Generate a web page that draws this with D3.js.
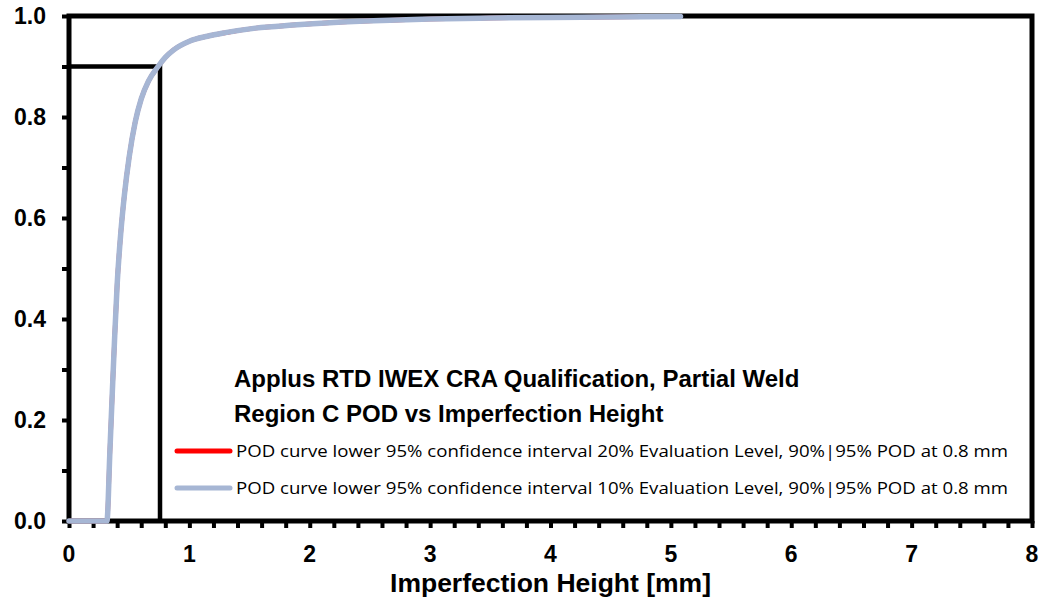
<!DOCTYPE html>
<html>
<head>
<meta charset="utf-8">
<script src="https://cdn.jsdelivr.net/npm/d3@7"></script>
<style>
  html, body { margin: 0; padding: 0; background: #fff; }
  svg { display: block; }
</style>
</head>
<body>
<svg id="chart" width="1041" height="605"></svg>
<script>
// Imperfection height (mm) sampled along the POD curves
const heights = [0, 0.315, 0.34, 0.36, 0.38, 0.40, 0.43, 0.46, 0.50, 0.55, 0.60, 0.66, 0.74, 0.80, 0.87,
                 1.0, 1.15, 1.3, 1.55, 1.86, 2.2, 2.6, 3.0, 3.5, 4.0, 4.5, 5.08];
// Lower 95% confidence POD, 20% evaluation level
const pod20 = [0, 0, 0.14, 0.256, 0.368, 0.468, 0.57, 0.645, 0.721, 0.79, 0.836, 0.871, 0.90, 0.918, 0.933,
               0.950, 0.960, 0.967, 0.976, 0.982, 0.987, 0.991, 0.994, 0.996, 0.997, 0.998, 0.999];
// Lower 95% confidence POD, 10% evaluation level
const pod10 = [0, 0, 0.14, 0.256, 0.368, 0.468, 0.57, 0.645, 0.721, 0.79, 0.836, 0.871, 0.90, 0.918, 0.933,
               0.950, 0.960, 0.967, 0.976, 0.982, 0.987, 0.991, 0.994, 0.996, 0.997, 0.998, 0.999];

// 90% POD level and the height where the lower bound reaches it
const podLevel = 0.9;
const a9095 = 0.756;

const xTickValues = [0, 1, 2, 3, 4, 5, 6, 7, 8];
const yTickValues = [0, 0.2, 0.4, 0.6, 0.8, 1.0];
const xMinorTicks = d3.range(0, 8.0001, 0.2);
const yMinorTicks = d3.range(0, 1.0001, 0.1);

const titleLines = [
  "Applus RTD IWEX CRA Qualification, Partial Weld",
  "Region C POD vs Imperfection Height"
];
const seriesNames = [
  "POD curve lower 95% confidence interval 20% Evaluation Level, 90%|95% POD at 0.8 mm",
  "POD curve lower 95% confidence interval 10% Evaluation Level, 90%|95% POD at 0.8 mm"
];
const seriesColors = ["#ff0000", "#a6b6d4"];
const xTitle = "Imperfection Height [mm]";

const svg = d3.select("#chart");
const plotLeft = 69, plotRight = 1032, plotTop = 16, plotBottom = 521;

const x = d3.scaleLinear().domain([0, 8]).range([plotLeft, plotRight]);
const y = d3.scaleLinear().domain([0, 1]).range([plotBottom, plotTop]);

// minor + major tick marks
const xAxis = d3.axisBottom(x).tickValues(xMinorTicks).tickSize(7).tickFormat("");
const gx = svg.append("g").attr("transform", `translate(0,${plotBottom})`).call(xAxis);
gx.select(".domain").remove();
gx.selectAll(".tick line").attr("stroke", "#000").attr("stroke-width", 4);

const yAxis = d3.axisLeft(y).tickValues(yMinorTicks).tickSize(7).tickFormat("");
const gy = svg.append("g").attr("transform", `translate(${plotLeft},0)`).call(yAxis);
gy.select(".domain").remove();
gy.selectAll(".tick line").attr("stroke", "#000").attr("stroke-width", 4);

// tick labels
svg.append("g").selectAll("text").data(xTickValues).join("text")
  .attr("x", d => x(d)).attr("y", 562)
  .attr("text-anchor", "middle")
  .attr("font-family", "Liberation Sans, Arial, sans-serif")
  .attr("font-weight", "bold").attr("font-size", 23)
  .text(d => d3.format("d")(d));

svg.append("g").selectAll("text").data(yTickValues).join("text")
  .attr("x", 46).attr("y", d => y(d))
  .attr("dy", "0.36em")
  .attr("text-anchor", "end")
  .attr("font-family", "Liberation Sans, Arial, sans-serif")
  .attr("font-weight", "bold").attr("font-size", 23)
  .text(d => d3.format(".1f")(d));

// plot frame
svg.append("rect")
  .attr("x", plotLeft).attr("y", plotTop)
  .attr("width", plotRight - plotLeft).attr("height", plotBottom - plotTop)
  .attr("fill", "none").attr("stroke", "#000").attr("stroke-width", 5);

// 90% POD reference lines
svg.append("path")
  .attr("d", d3.line()([[x(0), y(podLevel)], [x(a9095), y(podLevel)], [x(a9095), y(0)]]))
  .attr("fill", "none").attr("stroke", "#000").attr("stroke-width", 4.5)
  .attr("stroke-linejoin", "miter");

// POD curves
const line = d3.line().x(d => x(d[0])).y(d => y(d[1])).curve(d3.curveMonotoneX);
const series = [pod20, pod10];
series.forEach((vals, i) => {
  svg.append("path")
    .datum(heights.map((h, j) => [h, vals[j]]))
    .attr("d", line)
    .attr("fill", "none")
    .attr("stroke", seriesColors[i])
    .attr("stroke-width", i === 0 ? 4.5 : 5.5)
    .attr("stroke-linecap", "round")
    .attr("stroke-linejoin", "round");
});

// legend block
const legend = svg.append("g");
titleLines.forEach((t, i) => {
  legend.append("text")
    .attr("x", 234).attr("y", 387 + i * 35)
    .attr("font-family", "Liberation Sans, Arial, sans-serif")
    .attr("font-weight", "bold").attr("font-size", 24)
    .attr("fill", "#000")
    .text(t);
});
const legendY = [451, 488];
seriesNames.forEach((name, i) => {
  legend.append("line")
    .attr("x1", 177).attr("x2", 230)
    .attr("y1", legendY[i]).attr("y2", legendY[i])
    .attr("stroke", seriesColors[i]).attr("stroke-width", 5)
    .attr("stroke-linecap", "round");
  legend.append("text")
    .attr("x", 236).attr("y", legendY[i] + 6)
    .attr("font-family", "Open Sans, Noto Sans, sans-serif")
    .attr("font-size", 16.5)
    .attr("textLength", 772)
    .attr("lengthAdjust", "spacingAndGlyphs")
    .attr("fill", "#000")
    .text(name);
});

// axis title
svg.append("text")
  .attr("x", (plotLeft + plotRight) / 2).attr("y", 592)
  .attr("text-anchor", "middle")
  .attr("font-family", "Liberation Sans, Arial, sans-serif")
  .attr("font-weight", "bold").attr("font-size", 26.5)
  .text(xTitle);
</script>
</body>
</html>
